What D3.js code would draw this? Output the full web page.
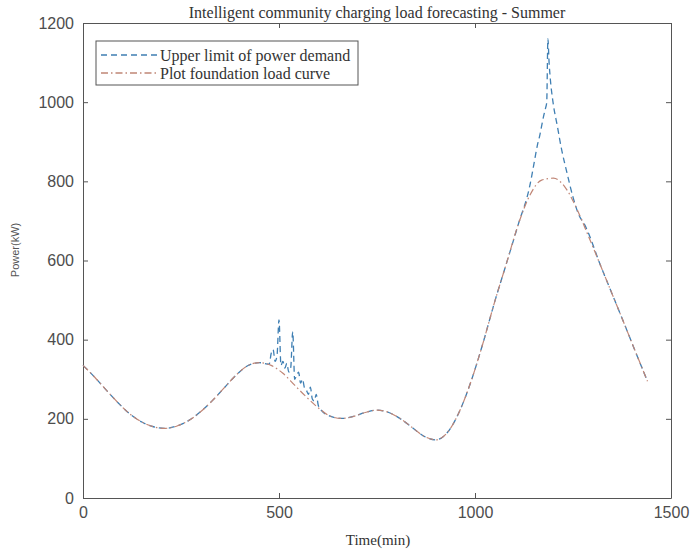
<!doctype html>
<html>
<head>
<meta charset="utf-8">
<script src="https://cdnjs.cloudflare.com/ajax/libs/d3/7.8.5/d3.min.js"></script>
<style>
    body { margin: 0; background: #fff; }
    .tick text { font-family: 'Liberation Sans', Arial, sans-serif; font-size: 16px; fill: #4d4d4d; }
    .axis path, .axis line { stroke: #555; }
</style>
</head>
<body>
<div id="graph"></div>
<script>
// foundation load, every 30 min
const baseTime = [0, 30, 60, 90, 120, 150, 180, 210, 240, 270, 300, 330, 360, 390, 420, 450,
    480, 510, 540, 570, 600, 630, 660, 690, 720, 750, 780, 810, 840, 870, 900, 930, 960, 990,
    1020, 1050, 1080, 1110, 1140, 1170, 1200, 1230, 1260, 1290, 1320, 1350, 1380, 1410, 1440]
const baseLoad = [335, 305, 272, 240, 212, 192, 180, 176, 182, 196, 218, 246, 278, 310, 334, 342,
    335, 315, 285, 255, 228, 207, 201, 206, 216, 222, 216, 200, 178, 156, 147, 166, 218, 295,
    390, 495, 592, 690, 765, 803, 808, 785, 730, 660, 588, 515, 442, 368, 295]

// upper limit of power demand (same as base except the two charging windows)
const upperTime = [0, 30, 60, 90, 120, 150, 180, 210, 240, 270, 300, 330, 360, 390, 420, 450,
    475, 480, 485, 490, 495, 500, 505, 510, 515, 520, 525, 530, 535, 540, 545, 550, 555, 560,
    565, 570, 575, 580, 585, 590, 595, 600, 605,
    630, 660, 690, 720, 750, 780, 810, 840, 870, 900, 930, 960, 990, 1020, 1050, 1080, 1110,
    1140, 1145, 1150, 1155, 1160, 1165, 1170, 1175, 1180, 1183, 1186, 1189, 1192, 1199, 1210,
    1220, 1235, 1250, 1265, 1280, 1320, 1350, 1380, 1410, 1440]
const upperLoad = [335, 305, 272, 240, 212, 192, 180, 176, 182, 196, 218, 246, 278, 310, 334, 342,
    338, 365, 375, 345, 360, 450, 335, 345, 328, 340, 318, 330, 420, 300, 310, 318, 290, 300,
    278, 272, 262, 280, 250, 245, 262, 235, 225,
    207, 201, 206, 216, 222, 216, 200, 178, 156, 147, 166, 218, 295, 390, 495, 592, 690,
    790, 815, 842, 870, 895, 915, 940, 965, 985, 1000, 1160, 1100, 1060, 1000, 940,
    885, 820, 760, 715, 690, 588, 515, 442, 368, 295]

const xTicks = [0, 500, 1000, 1500]
const yTicks = [0, 200, 400, 600, 800, 1000, 1200]

const W = 694, H = 551
const plotLeft = 83, plotRight = 671, plotTop = 23, plotBottom = 498

const svg = d3.select('#graph').append('svg')
    .attr('width', W).attr('height', H)

const x = d3.scaleLinear().domain([0, 1500]).range([plotLeft, plotRight])
const y = d3.scaleLinear().domain([0, 1200]).range([plotBottom, plotTop])

// box + inward ticks on all sides
svg.append('g').attr('class', 'axis')
    .attr('transform', `translate(0,${plotBottom})`)
    .call(d3.axisBottom(x).tickValues(xTicks).tickFormat(d3.format('d'))
        .tickSizeInner(-5).tickSizeOuter(0).tickPadding(9))
svg.append('g').attr('class', 'axis')
    .attr('transform', `translate(0,${plotTop})`)
    .call(d3.axisTop(x).tickValues(xTicks).tickSizeInner(-5).tickSizeOuter(0).tickFormat(''))
svg.append('g').attr('class', 'axis')
    .attr('transform', `translate(${plotLeft},0)`)
    .call(d3.axisLeft(y).tickValues(yTicks).tickFormat(d3.format('d'))
        .tickSizeInner(-5).tickSizeOuter(0).tickPadding(9))
svg.append('g').attr('class', 'axis')
    .attr('transform', `translate(${plotRight},0)`)
    .call(d3.axisRight(y).tickValues(yTicks).tickSizeInner(-5).tickSizeOuter(0).tickFormat(''))

const line = d3.line()
    .x(d => x(d[0]))
    .y(d => y(d[1]))
    .curve(d3.curveMonotoneX)

const upper = upperTime.map((t, i) => [t, upperLoad[i]])
const base = baseTime.map((t, i) => [t, baseLoad[i]])

svg.append('path').datum(upper)
    .attr('d', line)
    .attr('fill', 'none')
    .attr('stroke', '#3f7fb3')
    .attr('stroke-width', 1.3)
    .attr('stroke-dasharray', '6,4')

svg.append('path').datum(base)
    .attr('d', line)
    .attr('fill', 'none')
    .attr('stroke', '#c08676')
    .attr('stroke-width', 1.2)
    .attr('stroke-dasharray', '7,3,1.5,3')

// title and labels
svg.append('text')
    .attr('x', 377).attr('y', 18)
    .attr('text-anchor', 'middle')
    .style('font-family', "'Liberation Serif', 'Times New Roman', serif")
    .style('font-size', '16px').style('fill', '#333')
    .text('Intelligent community charging load forecasting - Summer')

svg.append('text')
    .attr('x', 378).attr('y', 545)
    .attr('text-anchor', 'middle')
    .style('font-family', "'Liberation Serif', 'Times New Roman', serif")
    .style('font-size', '15px').style('fill', '#333')
    .text('Time(min)')

svg.append('text')
    .attr('transform', 'translate(19,250) rotate(-90)')
    .attr('text-anchor', 'middle')
    .style('font-family', "'Liberation Sans', Arial, sans-serif")
    .style('font-size', '11px').style('fill', '#555')
    .text('Power(kW)')

// legend
const legend = svg.append('g').attr('transform', 'translate(96,41)')
legend.append('rect')
    .attr('width', 262).attr('height', 44)
    .attr('fill', '#fff').attr('stroke', '#555')

const items = [
    { label: 'Upper limit of power demand', color: '#3f7fb3', dash: '6,4' },
    { label: 'Plot foundation load curve', color: '#c08676', dash: '7,3,1.5,3' }
]
items.forEach((it, i) => {
    const g = legend.append('g').attr('transform', `translate(0,${14 + i * 18})`)
    g.append('line')
        .attr('x1', 5).attr('x2', 62)
        .attr('stroke', it.color).attr('stroke-width', 1.3)
        .attr('stroke-dasharray', it.dash)
    g.append('text')
        .attr('x', 64).attr('dy', '0.35em')
        .style('font-family', "'Liberation Serif', 'Times New Roman', serif")
        .style('font-size', '16px').style('fill', '#333')
        .text(it.label)
})
</script>
</body>
</html>
